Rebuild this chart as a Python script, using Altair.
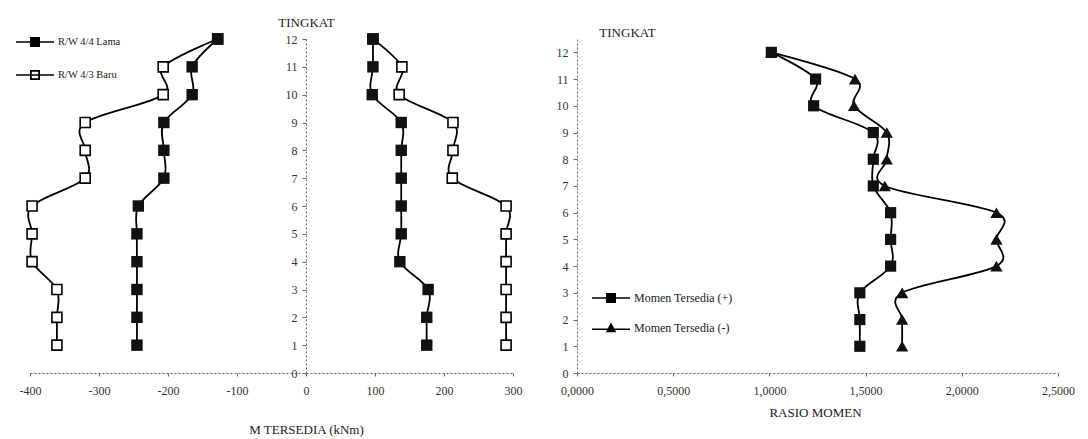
import altair as alt
import pandas as pd

# ---------------- data ----------------
levels = list(range(1, 13))  # TINGKAT 1..12

# Left chart: M TERSEDIA (kNm), listed from level 1 to level 12
lama_neg = [-245, -245, -245, -245, -245, -243, -206, -206, -206, -165, -165, -128]
baru_neg = [-361, -361, -361, -397, -397, -397, -320, -320, -320, -207, -207, -128]
lama_pos = [175, 175, 177, 136, 138, 138, 138, 138, 138, 96, 97, 97]
baru_pos = [290, 290, 290, 290, 290, 290, 212, 213, 213, 135, 139, 97]

# Right chart: RASIO MOMEN, listed from level 1 to level 12
rasio_plus = [1.47, 1.47, 1.47, 1.63, 1.63, 1.63, 1.54, 1.54, 1.54, 1.23, 1.24, 1.01]
rasio_minus = [1.69, 1.69, 1.69, 2.18, 2.18, 2.18, 1.60, 1.61, 1.61, 1.44, 1.445, 1.01]

left_series = ["R/W 4/4 Lama", "R/W 4/3 Baru"]
right_series = ["Momen Tersedia (+)", "Momen Tersedia (-)"]

left_x_ticks = [-400, -300, -200, -100, 0, 100, 200, 300]
right_x_ticks = [0.0, 0.5, 1.0, 1.5, 2.0, 2.5]
y_ticks = list(range(0, 13))

# ---------------- tables ----------------
rows = []
for name, side, vals in [
    (left_series[0], "neg", lama_neg),
    (left_series[1], "neg", baru_neg),
    (left_series[0], "pos", lama_pos),
    (left_series[1], "pos", baru_pos),
]:
    for lv, v in zip(levels, vals):
        rows.append({"level": lv, "value": v, "series": name, "group": name + side})
left_df = pd.DataFrame(rows)

rows = []
for name, vals in [(right_series[0], rasio_plus), (right_series[1], rasio_minus)]:
    for lv, v in zip(levels, vals):
        rows.append({"level": lv, "value": v, "series": name})
right_df = pd.DataFrame(rows)

FONT = "Liberation Serif"
AX = "#666666"
W_L, H = 483, 334
W_R = 481

# legend symbol paths (line + marker)
P_SQ_FILLED = "M-3.8,-0.13H3.8V0.13H-3.8ZM-1,-1H1V1H-1Z"
P_SQ_OPEN = "M-3.8,-0.13H3.8V0.13H-3.8ZM-1,-1H1V1H-1ZM-0.65,-0.65V0.65H0.65V-0.65Z"
P_TRI = "M-3.8,0.12H3.8V0.38H-3.8ZM0,-1.1L1.05,0.85H-1.05Z"

axis_common = dict(
    grid=False, domainDash=[2, 2], domainColor=AX, tickColor=AX,
    labelFont=FONT, titleFont=FONT, labelFontSize=12, titleFontSize=13,
    titleFontWeight="normal", labelColor="#333333", titleColor="#222222",
    titleAlign="center", titleBaseline="middle", titleAnchor="start",
)

# ---------------- left chart ----------------
xl = alt.X(
    "value:Q",
    scale=alt.Scale(domain=[-400, 300], nice=False, zero=False),
    axis=alt.Axis(
        values=left_x_ticks, labelExpr="'' + datum.value", labelFlush=False,
        tickSize=3, labelPadding=9, title="M TERSEDIA (kNm)", titleX=276, titleY=56,
        **axis_common,
    ),
)
yl = alt.Y(
    "level:Q",
    scale=alt.Scale(domain=[0, 12], nice=False),
    axis=alt.Axis(
        values=y_ticks, offset=-W_L * 400 / 700, labelFlush=False,
        tickSize=4, labelPadding=5,
        title="TINGKAT", titleAngle=0, titleX=0, titleY=-17,
        **axis_common,
    ),
)

base_l = alt.Chart(left_df)
lines_l = base_l.mark_line(color="black", strokeWidth=1.8, interpolate="cardinal").encode(
    x=xl, y=yl, detail="group:N", order="level:Q"
)
open_l = base_l.transform_filter(alt.datum.series == left_series[1]).mark_point(
    shape="square", filled=True, fill="white", stroke="black", strokeWidth=1.6, size=100, opacity=1
).encode(x=xl, y=yl)
fill_l = base_l.transform_filter(alt.datum.series == left_series[0]).mark_point(
    shape="square", filled=True, color="#111111", size=130, opacity=1
).encode(x=xl, y=yl)
leg_l = base_l.mark_point(filled=True, color="black", size=100, opacity=0).encode(
    x=xl, y=yl,
    shape=alt.Shape(
        "series:N",
        scale=alt.Scale(domain=left_series, range=[P_SQ_FILLED, P_SQ_OPEN]),
        legend=alt.Legend(
            title=None, orient="none", legendX=-1, legendY=-3, padding=0,
            labelOffset=17, labelFontSize=10.5, labelFont=FONT, labelColor="#222",
            rowPadding=17, symbolSize=100, symbolFillColor="black",
        ),
    ),
)
left = alt.layer(lines_l, open_l, fill_l, leg_l).properties(width=W_L, height=H)

# ---------------- right chart ----------------
xr = alt.X(
    "value:Q",
    scale=alt.Scale(domain=[0, 2.5], nice=False, zero=False),
    axis=alt.Axis(
        values=right_x_ticks, labelExpr="replace(format(datum.value, '.4f'), '.', ',')",
        labelFlush=False, tickSize=3, labelPadding=9,
        title="RASIO MOMEN", titleX=238, titleY=39,
        **axis_common,
    ),
)
yr = alt.Y(
    "level:Q",
    scale=alt.Scale(domain=[0, 12.5], nice=False),
    axis=alt.Axis(
        values=y_ticks, labelFlush=False, tickSize=4, labelPadding=5,
        title="TINGKAT", titleAngle=0, titleX=50, titleY=-7,
        **axis_common,
    ),
)

base_r = alt.Chart(right_df)
lines_r = base_r.mark_line(color="black", strokeWidth=1.8, interpolate="cardinal").encode(
    x=xr, y=yr, detail="series:N", order="level:Q"
)
tri_r = base_r.transform_filter(alt.datum.series == right_series[1]).mark_point(
    shape="triangle-up", filled=True, color="#111111", size=150, opacity=1
).encode(x=xr, y=yr)
sq_r = base_r.transform_filter(alt.datum.series == right_series[0]).mark_point(
    shape="square", filled=True, color="#111111", size=125, opacity=1
).encode(x=xr, y=yr)
leg_r = base_r.mark_point(filled=True, color="black", size=100, opacity=0).encode(
    x=xr, y=yr,
    shape=alt.Shape(
        "series:N",
        scale=alt.Scale(domain=right_series, range=[P_SQ_FILLED, P_TRI]),
        legend=alt.Legend(
            title=None, orient="none", legendX=28, legendY=253, padding=0,
            labelOffset=17, labelFontSize=12, labelFont=FONT, labelColor="#222",
            rowPadding=13, symbolSize=100, symbolFillColor="black",
        ),
    ),
)
right = alt.layer(lines_r, tri_r, sq_r, leg_r).properties(width=W_R, height=H)

chart = (
    alt.hconcat(left, right, spacing=64, bounds="flush")
    .resolve_scale(x="independent", y="independent", shape="independent")
    .resolve_legend(shape="independent")
    .properties(padding={"left": 5, "top": 8, "right": 0, "bottom": 2}, background="white")
    .configure_view(stroke=None)
)

chart.save("out.html", embed_options={"renderer": "svg", "actions": False})
